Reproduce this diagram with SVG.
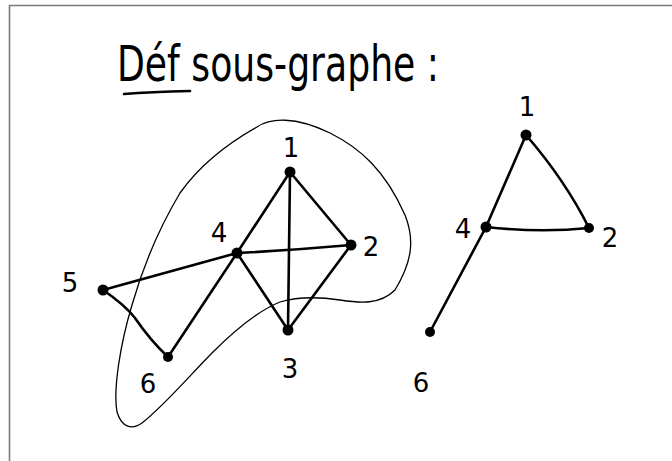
<svg xmlns="http://www.w3.org/2000/svg" width="672" height="461" viewBox="0 0 672 461">
<style>
.e{stroke:#000;stroke-width:2.6;stroke-linecap:round;fill:none}
.n{fill:#000}
.l{font-family:"DejaVu Sans","Liberation Sans",sans-serif;font-size:26px;fill:#000;text-anchor:middle}
.t{font-family:"DejaVu Sans","Liberation Sans",sans-serif;font-size:50px;fill:#000}
</style>
<rect width="672" height="461" fill="#fff"/>
<path d="M9.5,461 V5.5 H672" fill="none" stroke="#7a7a7a" stroke-width="1.6"/>
<g id="title">
<text class="t" x="117" y="81" textLength="322" lengthAdjust="spacingAndGlyphs">Déf sous-graphe :</text>
<path d="M124,94 Q150,92 190,91" class="e" stroke-width="2.2"/>
</g>
<g id="blob">
<path d="M257,127 C270,118 295,116 330,133 C360,148 385,170 405,215 C415,240 412,262 395,290 C380,305 360,303 340,300 C320,297 300,296 280,302 C260,310 240,325 213,352 C190,375 165,405 142,423 C132,430 122,428 117,412 C113,390 120,345 132,305 C142,270 155,235 180,193 C200,165 225,145 257,127 Z" fill="none" stroke="#000" stroke-width="1.3"/>
</g>
<g id="edges">
<line class="e" x1="290" y1="172" x2="237" y2="253"/>
<line class="e" x1="290" y1="172" x2="288" y2="330"/>
<line class="e" x1="290" y1="172" x2="351" y2="245"/>
<path class="e" d="M237,253 Q295,250 351,245"/>
<line class="e" x1="237" y1="253" x2="288" y2="330"/>
<line class="e" x1="351" y1="245" x2="288" y2="330"/>
<line class="e" x1="237" y1="253" x2="103" y2="290"/>
<line class="e" x1="237" y1="253" x2="168" y2="357"/>
<path class="e" d="M103,290 Q125,305 135,318 Q150,340 168,357"/>
<line class="e" x1="526" y1="135" x2="486" y2="227"/>
<path class="e" d="M526,135 Q565,180 589,228"/>
<path class="e" d="M486,227 Q540,233 589,228"/>
<line class="e" x1="486" y1="227" x2="430" y2="332"/>
</g>
<g id="n1"><circle class="n" cx="290" cy="172" r="5.5"/><text class="l" x="291" y="157">1</text></g>
<g id="n2"><circle class="n" cx="351" cy="245" r="5.5"/><text class="l" x="371" y="256">2</text></g>
<g id="n3"><circle class="n" cx="288" cy="330" r="5.5"/><text class="l" x="290" y="378">3</text></g>
<g id="n4"><circle class="n" cx="237" cy="253" r="5.5"/><text class="l" x="219" y="242">4</text></g>
<g id="n5"><circle class="n" cx="103" cy="290" r="5.5"/><text class="l" x="70" y="292">5</text></g>
<g id="n6"><circle class="n" cx="168" cy="357" r="5"/><text class="l" x="148" y="393">6</text></g>
<g id="m1"><circle class="n" cx="526" cy="135" r="5.5"/><text class="l" x="527" y="116">1</text></g>
<g id="m2"><circle class="n" cx="589" cy="228" r="5"/><text class="l" x="610" y="247">2</text></g>
<g id="m4"><circle class="n" cx="486" cy="227" r="5.5"/><text class="l" x="463" y="238">4</text></g>
<g id="m6"><circle class="n" cx="430" cy="332" r="5"/><text class="l" x="421" y="392">6</text></g>
</svg>
